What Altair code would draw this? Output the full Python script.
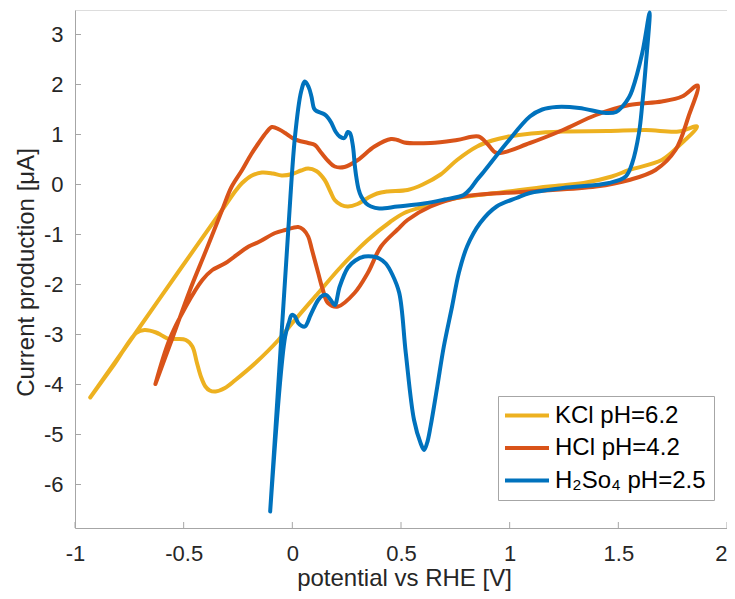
import altair as alt
import pandas as pd

SERIES = ["KCl pH=6.2", "HCl pH=4.2", "H₂So₄ pH=2.5"]
COLORS = ["#EDB120", "#D95319", "#0072BD"]

KCL_E = [-0.93, -0.718, -0.52, -0.312, -0.26, -0.231, -0.19, -0.14, -0.09, -0.049, 0.0, 0.04, 0.073,
         0.11, 0.149, 0.175, 0.195, 0.225, 0.256, 0.30, 0.347, 0.39, 0.438, 0.53, 0.60, 0.682, 0.758,
         0.85, 0.92, 0.986, 1.10, 1.245, 1.45, 1.626, 1.778, 1.862,
         1.78, 1.70, 1.55, 1.47, 1.34, 1.18, 0.94, 0.80, 0.70, 0.606, 0.515, 0.45, 0.347, 0.225, 0.119,
         0.0, -0.064, -0.17, -0.262, -0.31, -0.353, -0.38, -0.40, -0.42, -0.44, -0.46, -0.49, -0.53,
         -0.566, -0.60, -0.627, -0.68, -0.718, -0.82, -0.93]
KCL_I = [-4.26, -2.95, -1.72, -0.44, -0.12, 0.03, 0.17, 0.24, 0.22, 0.18, 0.21, 0.28, 0.32,
         0.27, 0.09, -0.14, -0.31, -0.41, -0.44, -0.39, -0.27, -0.18, -0.14, -0.11, 0.0, 0.20, 0.49,
         0.76, 0.88, 0.95, 1.02, 1.06, 1.07, 1.09, 1.06, 1.16,
         0.78, 0.49, 0.29, 0.16, 0.03, -0.04, -0.17, -0.24, -0.32, -0.44, -0.57, -0.75, -1.11, -1.64, -2.17,
         -2.77, -3.11, -3.57, -3.91, -4.07, -4.14, -4.12, -4.04, -3.85, -3.55, -3.24, -3.11, -3.09,
         -3.09, -3.02, -2.96, -2.91, -2.97, -3.6, -4.26]

HCL_E = [-0.63, -0.55, -0.47, -0.40, -0.323, -0.28, -0.231, -0.19, -0.155, -0.12, -0.094, -0.06, -0.033,
         0.0, 0.027, 0.073, 0.104, 0.134, 0.165, 0.195, 0.24, 0.301, 0.378, 0.454, 0.484, 0.515, 0.636,
         0.758, 0.857, 0.90, 0.94, 1.093, 1.245, 1.397, 1.55, 1.70, 1.793, 1.865,
         1.823, 1.763, 1.671, 1.55, 1.397, 1.093, 0.788, 0.636, 0.53, 0.484, 0.408, 0.347, 0.286, 0.21,
         0.164, 0.14, 0.119, 0.09, 0.073, 0.05, 0.027, -0.033, -0.079, -0.155, -0.201, -0.307, -0.368,
         -0.414, -0.49, -0.566, -0.63]
HCL_I = [-3.99, -3.05, -2.1, -1.35, -0.51, -0.05, 0.29, 0.6, 0.83, 1.04, 1.15, 1.1, 1.03,
         0.93, 0.88, 0.83, 0.79, 0.63, 0.47, 0.36, 0.35, 0.49, 0.76, 0.91, 0.89, 0.84, 0.83,
         0.89, 0.96, 0.80, 0.63, 0.83, 1.09, 1.39, 1.59, 1.66, 1.76, 1.98,
         1.36, 0.69, 0.29, 0.09, -0.04, -0.14, -0.24, -0.44, -0.71, -0.90, -1.24, -1.77, -2.17, -2.44,
         -2.37, -2.1, -1.77, -1.3, -1.04, -0.9, -0.85, -0.91, -0.97, -1.15, -1.24, -1.57, -1.71,
         -1.91, -2.44, -3.11, -3.99]

H2SO4_E = [-0.102, -0.06, -0.02, 0.012, 0.04, 0.058, 0.075, 0.088, 0.10, 0.111, 0.149, 0.165, 0.18, 0.20,
           0.218, 0.24, 0.255, 0.265, 0.279, 0.287, 0.294, 0.305, 0.317, 0.34, 0.362, 0.40, 0.484, 0.606,
           0.70, 0.788, 0.82, 0.849, 0.88, 0.986, 1.093, 1.15, 1.215, 1.32, 1.443, 1.49, 1.519, 1.55, 1.564,
           1.61, 1.644,
           1.626, 1.61, 1.595, 1.564, 1.534, 1.458, 1.245, 1.093, 1.032, 0.94, 0.864, 0.804, 0.766, 0.735,
           0.697, 0.667, 0.636, 0.62, 0.606, 0.59, 0.56, 0.522, 0.492, 0.46, 0.43, 0.40, 0.37, 0.332, 0.29,
           0.256, 0.218, 0.195, 0.175, 0.157, 0.14, 0.119, 0.085, 0.058, 0.04, 0.027, 0.01, -0.003, -0.015,
           -0.033, -0.102]
H2SO4_I = [-6.54, -3.7, -1.0, 0.95, 1.85, 2.06, 1.95, 1.76, 1.52, 1.47, 1.40, 1.33, 1.23, 1.05,
           0.96, 0.93, 1.05, 1.03, 0.76, 0.4, 0.16, -0.1, -0.24, -0.38, -0.44, -0.48, -0.44, -0.38,
           -0.30, -0.21, -0.08, 0.09, 0.25, 0.83, 1.36, 1.5, 1.55, 1.53, 1.43, 1.45, 1.56, 1.75, 1.89,
           2.63, 3.44,
           2.37, 1.6, 1.03, 0.43, 0.16, 0.03, -0.07, -0.17, -0.27, -0.44, -0.77, -1.24, -1.77, -2.44,
           -3.24, -4.04, -4.84, -5.17, -5.31, -5.17, -4.71, -3.37, -2.17, -1.8, -1.58, -1.48, -1.44, -1.44,
           -1.52, -1.66, -2.04, -2.41, -2.3, -2.21, -2.22, -2.31, -2.6, -2.84, -2.82, -2.77, -2.63, -2.61,
           -2.75, -3.04, -6.54]

X_TICKS = [-1, -0.5, 0, 0.5, 1, 1.5, 2]
Y_TICKS = [-6, -5, -4, -3, -2, -1, 0, 1, 2, 3]

FONT = "Liberation Sans"
AXIS_GRAY = "#a6a6a6"
TEXT = "#262626"
W, H = 652, 518

frames = []
for name, xs, ys in zip(SERIES, [KCL_E, HCL_E, H2SO4_E], [KCL_I, HCL_I, H2SO4_I]):
    frames.append(pd.DataFrame({"E": xs, "I": ys, "series": name, "idx": range(len(xs))}))

xscale = alt.Scale(domain=[-1, 2], nice=False, zero=False)
yscale = alt.Scale(domain=[-6.87, 3.49], nice=False, zero=False)

LABEL_EXPR = "replace(datum.label, '\u2212', '-')"

xaxis = alt.Axis(values=X_TICKS, format="~g", labelExpr=LABEL_EXPR, ticks=False, tickSize=0,
                 grid=False, domainColor=AXIS_GRAY, domainWidth=1, labelFont=FONT,
                 labelFontSize=22, labelColor=TEXT, labelPadding=15, labelFlush=False,
                 labelOverlap=False,
                 labelAlign={"condition": {"test": "datum.value == 2", "value": "right"},
                             "value": "center"},
                 title="potential vs RHE [V]", titleFont=FONT, titleFontSize=24,
                 titleFontWeight="normal", titleColor=TEXT, titleX=329, titleY=57,
                 titleBaseline="alphabetic", titleAlign="center")
yaxis = alt.Axis(values=Y_TICKS, format="~g", labelExpr=LABEL_EXPR, ticks=False, tickSize=0,
                 grid=False, domainColor=AXIS_GRAY, domainWidth=1, labelFont=FONT,
                 labelFontSize=22, labelColor=TEXT, labelPadding=12, labelFlush=False,
                 labelOverlap=False,
                 title="Current production [μA]", titleFont=FONT, titleFontSize=24,
                 titleFontWeight="normal", titleColor=TEXT, titleX=-42, titleY=262,
                 titleAngle=270, titleBaseline="alphabetic", titleAlign="center")

color = alt.Color("series:N", scale=alt.Scale(domain=SERIES, range=COLORS),
                  legend=alt.Legend(orient="none", legendX=423, legendY=386, title=None,
                                    symbolType="M-1.25,0H3.15", symbolSize=400,
                                    symbolStrokeWidth=4, labelFont=FONT, labelFontSize=24,
                                    labelColor="#000000", labelOffset=25.5, padding=7.5,
                                    rowPadding=8.5, strokeColor=AXIS_GRAY, fillColor="white",
                                    labelLimit=400, cornerRadius=0))

layers = []
for f in frames:
    layers.append(
        alt.Chart(f).mark_line(strokeWidth=4, interpolate="catmull-rom", strokeJoin="round",
                               strokeCap="round").encode(
            x=alt.X("E:Q", scale=xscale, axis=xaxis),
            y=alt.Y("I:Q", scale=yscale, axis=yaxis),
            color=color,
            order=alt.Order("idx:Q"),
        )
    )

xt = pd.DataFrame({"E": X_TICKS})
yt = pd.DataFrame({"I": Y_TICKS})
xtick_layer = alt.Chart(xt).mark_rule(color=AXIS_GRAY, strokeWidth=1).encode(
    x=alt.X("E:Q", scale=xscale, axis=xaxis), y=alt.value(H), y2=alt.value(H - 6))
ytick_layer = alt.Chart(yt).mark_rule(color=AXIS_GRAY, strokeWidth=1).encode(
    y=alt.Y("I:Q", scale=yscale, axis=yaxis), x=alt.value(0), x2=alt.value(6))

chart = alt.layer(xtick_layer, ytick_layer, *layers).properties(
    width=W, height=H,
    autosize=alt.AutoSizeParams(type="none"),
    padding={"left": 67, "top": 2, "right": 0, "bottom": 63},
).configure_view(stroke=None).configure(background="white")

chart.save("out.html", embed_options={"renderer": "svg", "actions": False})
